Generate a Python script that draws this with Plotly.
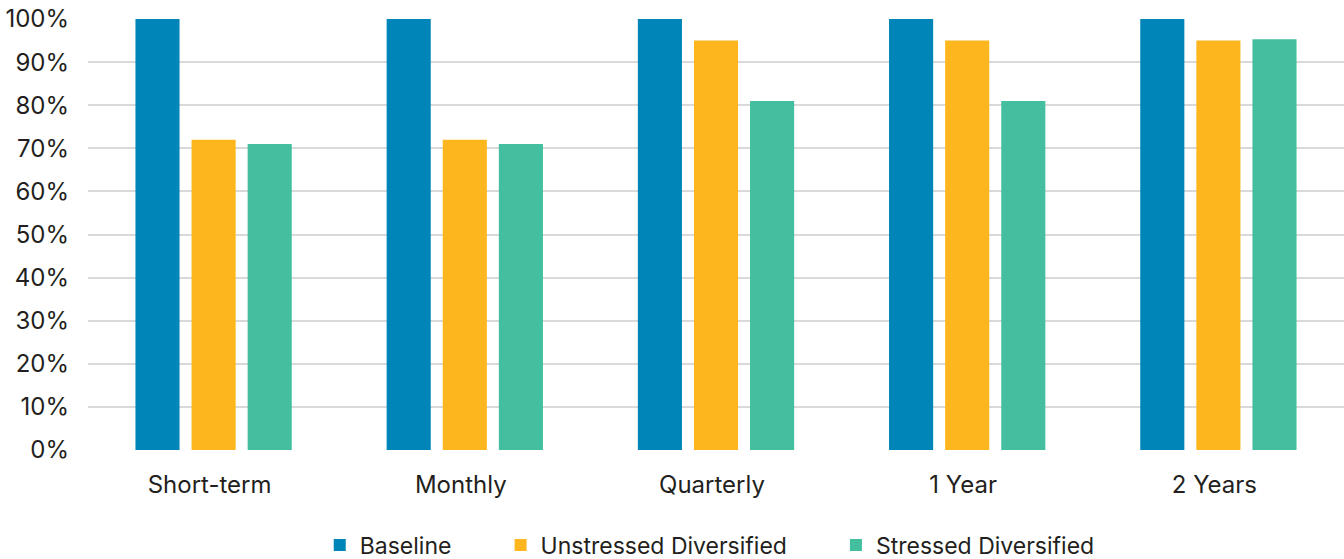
import plotly.graph_objects as go

categories = ["Short-term", "Monthly", "Quarterly", "1 Year", "2 Years"]
baseline = [100, 100, 100, 100, 100]
unstressed = [72, 72, 95, 95, 95]
stressed = [71, 71, 81, 81, 95.3]

series = [
    ("Baseline", baseline, "#0085B8", "legend", 0.1845),
    ("Unstressed Diversified", unstressed, "#FDB61E", "legend2", 0.3285),
    ("Stressed Diversified", stressed, "#43BFA0", "legend3", 0.5955),
]

FONT = "Inter"
TXT = "#231F20"

fig = go.Figure()
for name, vals, color, leg, _ in series:
    fig.add_trace(go.Bar(
        x=categories, y=vals, name=name, legend=leg,
        marker=dict(color=color, line=dict(width=0)),
        hovertemplate="%{x}: %{y}%<extra>" + name + "</extra>",
    ))

legend_common = dict(
    orientation="h", yref="container", y=1 - 545 / 559, yanchor="middle",
    xanchor="left", font=dict(family=FONT, size=23, color=TXT),
    bgcolor="rgba(0,0,0,0)", itemwidth=30,
)
layout_legends = {}
for name, vals, color, leg, xpos in series:
    layout_legends[leg] = dict(legend_common, x=xpos)

fig.update_layout(
    width=1344, height=559,
    margin=dict(l=88, r=0, t=19, b=109, autoexpand=False),
    paper_bgcolor="white", plot_bgcolor="white",
    barmode="group", bargap=0.33, bargroupgap=0.214,
    font=dict(family=FONT, size=23, color=TXT),
    showlegend=True,
    **layout_legends,
)
fig.update_yaxes(
    range=[0, 100], dtick=10, ticksuffix="%",
    showgrid=True, gridcolor="#D9D9D9", gridwidth=2,
    zeroline=False, showline=False, ticks="",
    ticklabelstandoff=18,
    tickfont=dict(family=FONT, size=24, color=TXT),
)
fig.update_xaxes(
    showgrid=False, showline=False, ticks="",
    ticklabelstandoff=18, ticklabelshift=-4,
    tickfont=dict(family=FONT, size=24, color=TXT),
)

fig.write_html("out.html")
